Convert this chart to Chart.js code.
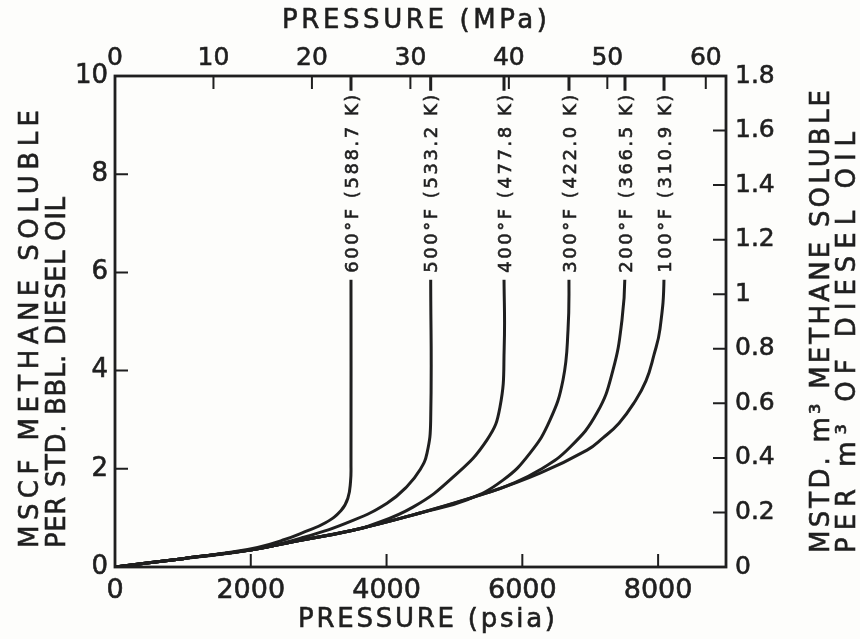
<!DOCTYPE html>
<html>
<head>
<meta charset="utf-8">
<script src="https://cdn.jsdelivr.net/npm/chart.js@4.4.1/dist/chart.umd.min.js"></script>
<style>
  html, body { margin: 0; padding: 0; background: #fdfdfb; }
  canvas { display: block; }
</style>
</head>
<body>
<canvas id="solubility" width="860" height="639"></canvas>
<script>
// methane solubility in diesel oil, pressure in psia, solubility in MSCF / std. bbl
const psia100 = [0, 1000, 2018, 2533, 3506, 4493, 5480, 6260, 6953, 7188, 7424, 7644, 7821, 7939, 8028, 8087, 8087];
const sol100  = [0, 0.17, 0.35, 0.49, 0.75, 1.10, 1.51, 1.91, 2.38, 2.63, 2.93, 3.34, 3.79, 4.32, 4.85, 5.91, 10];

const psia200 = [0, 1000, 2018, 2533, 3506, 4493, 5480, 5774, 6260, 6702, 7100, 7335, 7468, 7512, 7512];
const sol200  = [0, 0.17, 0.35, 0.49, 0.75, 1.10, 1.51, 1.65, 1.98, 2.44, 3.14, 4.01, 5.03, 5.95, 10];

const psia300 = [0, 1000, 2018, 2533, 3506, 4493, 5185, 5715, 6113, 6407, 6599, 6673, 6687, 6687];
const sol300  = [0, 0.17, 0.35, 0.49, 0.75, 1.10, 1.37, 1.77, 2.32, 2.99, 3.81, 4.83, 5.91, 10];

const psia400 = [0, 1000, 2018, 2533, 3506, 3712, 4389, 4979, 5480, 5671, 5733, 5730, 5730];
const sol400  = [0, 0.17, 0.35, 0.49, 0.75, 0.82, 1.22, 1.83, 2.59, 3.26, 4.48, 6.00, 10];

const psia500 = [0, 1000, 2018, 2769, 3506, 4007, 4301, 4493, 4596, 4650, 4650, 4650];
const sol500  = [0, 0.17, 0.35, 0.60, 0.95, 1.30, 1.64, 1.98, 2.32, 2.99, 6.00, 10];

const psia600 = [0, 1000, 1600, 2100, 2500, 2800, 3100, 3330, 3430, 3470, 3476, 3476, 3476];
const sol600  = [0, 0.17, 0.28, 0.40, 0.56, 0.72, 0.90, 1.15, 1.40, 1.75, 2.10, 5.90, 10];

const tempF = ['600°F', '500°F', '400°F', '300°F', '200°F', '100°F'];
const tempK = ['588.7 K', '533.2 K', '477.8 K', '422.0 K', '366.5 K', '310.9 K'];

// axis ticks
const psiaTicks = [0, 2000, 4000, 6000, 8000];
const mpaTicks = [0, 10, 20, 30, 40, 50, 60];
const mscfTicks = [0, 2, 4, 6, 8, 10];
const m3Ticks = [0, 0.2, 0.4, 0.6, 0.8, 1, 1.2, 1.4, 1.6, 1.8];
const m3TickLabels = ['0', '0.2', '0.4', '0.6', '0.8', '1', '1.2', '1.4', '1.6', '1.8'];

const PSIA_MAX = 9000;
const PSI_TO_MPA = 0.00689476;

const ink = '#1f1f1f';
const paper = '#fdfdfb';
const fontFamily = '"DejaVu Sans", sans-serif';
const textStroke = 0.6;

Chart.defaults.font.family = fontFamily;
Chart.defaults.color = ink;

function toPoints(xs, ys) {
  return xs.map((x, i) => ({x: x, y: ys[i]}));
}

const curves = [
  [psia600, sol600], [psia500, sol500], [psia400, sol400],
  [psia300, sol300], [psia200, sol200], [psia100, sol100]
];

// draws text with letter spacing stretched so it covers the given length
function drawFitted(ctx, text, x, y, size, length, align, rotate) {
  ctx.save();
  ctx.font = size + 'px ' + fontFamily;
  ctx.letterSpacing = '0px';
  const natural = ctx.measureText(text).width;
  const spacing = (length - natural) / (text.length - 1);
  ctx.letterSpacing = spacing + 'px';
  ctx.translate(x, y);
  if (rotate) ctx.rotate(-Math.PI / 2);
  ctx.textAlign = 'left';
  ctx.textBaseline = 'alphabetic';
  const start = align === 'center' ? -length / 2 : 0;
  const cap = size * 0.729;
  const ty = rotate ? cap / 2 : 0;
  ctx.fillStyle = ink;
  ctx.strokeStyle = ink;
  ctx.lineWidth = textStroke;
  ctx.fillText(text, start, ty);
  ctx.strokeText(text, start, ty);
  ctx.restore();
}

const background = {
  id: 'paperBackground',
  beforeDraw: (chart) => {
    const {ctx} = chart;
    ctx.save();
    ctx.fillStyle = paper;
    ctx.fillRect(0, 0, chart.width, chart.height);
    ctx.restore();
  }
};

// temperature labels sitting on the vertical part of every curve
const curveLabels = {
  id: 'curveLabels',
  afterDatasetsDraw: (chart) => {
    const {ctx, scales: {x, y}} = chart;
    const base = y.getPixelForValue(5.85);
    const len = 178;
    ctx.save();
    curves.forEach((c, i) => {
      const xs = c[0];
      const px = x.getPixelForValue(xs[xs.length - 1]);
      ctx.fillStyle = paper;
      ctx.fillRect(px - 10, base - 7 - len - 4, 20, len + 11);
      drawFitted(ctx, tempF[i] + ' (' + tempK[i] + ')', px, base - 7, 18, len, 'left', true);
    });
    ctx.restore();
  }
};

// plot frame with short inward ticks on all four sides
const frame = {
  id: 'frame',
  afterDatasetsDraw: (chart) => {
    const {ctx, chartArea: a} = chart;
    const len = 13;
    ctx.save();
    ctx.strokeStyle = ink;
    ctx.lineWidth = 2;
    ctx.beginPath();
    Object.values(chart.scales).forEach((s) => {
      s.ticks.forEach((t) => {
        const p = s.getPixelForValue(t.value);
        if (s.isHorizontal()) {
          if (p <= a.left + 1 || p >= a.right - 1) return;
          if (s.position === 'bottom') { ctx.moveTo(p, a.bottom); ctx.lineTo(p, a.bottom - len); }
          else { ctx.moveTo(p, a.top); ctx.lineTo(p, a.top + len); }
        } else {
          if (p <= a.top + 1 || p >= a.bottom - 1) return;
          if (s.position === 'left') { ctx.moveTo(a.left, p); ctx.lineTo(a.left + len, p); }
          else { ctx.moveTo(a.right, p); ctx.lineTo(a.right - len, p); }
        }
      });
    });
    ctx.stroke();
    ctx.lineWidth = 2.8;
    ctx.strokeRect(a.left, a.top, a.right - a.left, a.bottom - a.top);
    ctx.restore();
  }
};

const titles = {
  id: 'axisTitles',
  afterDraw: (chart) => {
    const {ctx} = chart;
    drawFitted(ctx, 'PRESSURE (MPa)', 414.5, 28, 26, 265, 'center', false);
    drawFitted(ctx, 'PRESSURE (psia)', 426.5, 627, 26, 257, 'center', false);
    drawFitted(ctx, 'MSCF METHANE SOLUBLE', 29, 548, 26, 438, 'left', true);
    drawFitted(ctx, 'PER STD. BBL. DIESEL OIL', 56, 548, 26, 351, 'left', true);
    drawFitted(ctx, 'MSTD. m³ METHANE SOLUBLE', 820, 553, 26, 463, 'left', true);
    drawFitted(ctx, 'PER m³ OF DIESEL OIL', 846, 553, 26, 421, 'left', true);
  }
};

function fixedTicks(values) {
  return (scale) => { scale.ticks = values.map((v) => ({value: v})); };
}

const plainAxis = {
  type: 'linear',
  grid: {display: false, drawTicks: false},
  border: {display: false},
};

const tickText = {textStrokeColor: ink, textStrokeWidth: textStroke, autoSkip: false, maxRotation: 0};

new Chart(document.getElementById('solubility'), {
  type: 'line',
  data: {
    datasets: curves.map((c, i) => ({
      label: tempF[i],
      data: toPoints(c[0], c[1]),
      borderColor: ink,
      borderWidth: 3,
      pointRadius: 0,
      tension: 0.45,
      fill: false,
    }))
  },
  options: {
    responsive: false,
    animation: false,
    events: [],
    layout: {padding: 0},
    plugins: {
      legend: {display: false},
      tooltip: {enabled: false},
    },
    scales: {
      x: {
        ...plainAxis,
        position: 'bottom',
        min: 0,
        max: PSIA_MAX,
        afterBuildTicks: fixedTicks(psiaTicks),
        afterFit: (s) => { s.height = 72; },
        ticks: {...tickText, font: {size: 27}, padding: 8, callback: (v) => String(v)},
      },
      xTop: {
        ...plainAxis,
        position: 'top',
        min: 0,
        max: PSIA_MAX * PSI_TO_MPA,
        afterBuildTicks: fixedTicks(mpaTicks),
        afterFit: (s) => { s.height = 76; },
        ticks: {...tickText, font: {size: 25}, padding: 3, callback: (v) => String(v)},
      },
      y: {
        ...plainAxis,
        position: 'left',
        min: 0,
        max: 10,
        afterBuildTicks: fixedTicks(mscfTicks),
        afterFit: (s) => { s.width = 115; },
        ticks: {...tickText, font: {size: 26}, padding: 7, callback: (v) => String(v)},
      },
      yRight: {
        ...plainAxis,
        position: 'right',
        min: 0,
        max: 1.8,
        afterBuildTicks: fixedTicks(m3Ticks),
        afterFit: (s) => { s.width = 134; },
        ticks: {...tickText, font: {size: 25}, padding: 9, callback: (v, i) => m3TickLabels[i]},
      },
    }
  },
  plugins: [background, curveLabels, frame, titles],
});
</script>
</body>
</html>
